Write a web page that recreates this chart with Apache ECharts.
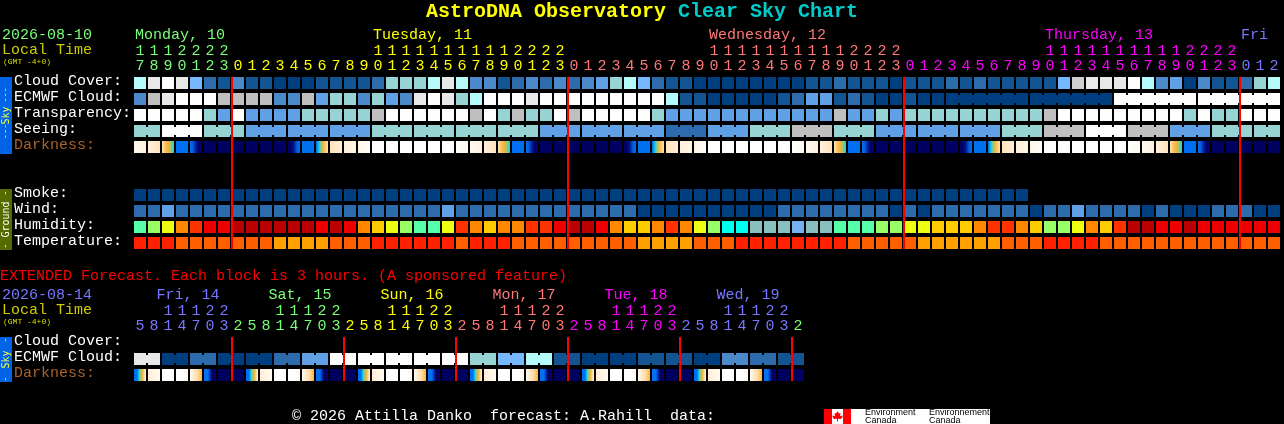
<!DOCTYPE html>
<html>
<head>
<meta charset="utf-8">
<style>html,body{margin:0;padding:0;background:#000}#c{width:1284px;height:424px}</style>
<script src="https://cdn.jsdelivr.net/npm/echarts@6/dist/echarts.min.js"></script>
</head>
<body>
<div id="c"></div>
<script>
// ---------- axis text ----------
const skyRows = ['Cloud Cover:','ECMWF Cloud:','Transparency:','Seeing:','Darkness:','','','Smoke:','Wind:','Humidity:','Temperature:'];
const extRows = ['Cloud Cover:','ECMWF Cloud:','Darkness:'];
const hours = [17,18,19,20,21,22,23,
  0,1,2,3,4,5,6,7,8,9,10,11,12,13,14,15,16,17,18,19,20,21,22,23,
  0,1,2,3,4,5,6,7,8,9,10,11,12,13,14,15,16,17,18,19,20,21,22,23,
  0,1,2,3,4,5,6,7,8,9,10,11,12,13,14,15,16,17,18,19,20,21,22,23,
  0,1,2];
const hourDay = [0,0,0,0,0,0,0,
  1,1,1,1,1,1,1,1,1,1,1,1,1,1,1,1,1,1,1,1,1,1,1,1,
  2,2,2,2,2,2,2,2,2,2,2,2,2,2,2,2,2,2,2,2,2,2,2,2,
  3,3,3,3,3,3,3,3,3,3,3,3,3,3,3,3,3,3,3,3,3,3,3,3,
  4,4,4];
const extHours = [5,8,11,14,17,20,23,
  2,5,8,11,14,17,20,23, 2,5,8,11,14,17,20,23, 2,5,8,11,14,17,20,23,
  2,5,8,11,14,17,20,23, 2,5,8,11,14,17,20,23, 2];
const extHourDay = [4,4,4,4,4,4,4, 0,0,0,0,0,0,0,0, 1,1,1,1,1,1,1,1, 2,2,2,2,2,2,2,2, 3,3,3,3,3,3,3,3, 4,4,4,4,4,4,4,4, 0];
const dayColors = ['#77ff77','#ffff00','#ff7777','#ff00ff','#7777ff'];
const dayLabels = ['Monday, 10','Tuesday, 11','Wednesday, 12','Thursday, 13','Fri'];
const dayLabelCols = [0,17,41,65,79];
const extDayLabels = ['Fri, 14','Sat, 15','Sun, 16','Mon, 17','Tue, 18','Wed, 19'];
const extDayLabelCols = [1.6,9.6,17.6,25.6,33.6,41.6];
const extDayLabelColors = [4,0,1,2,3,4];
const midnights = [7,31,55,79];
const extMidnights = [7,15,23,31,39,47];

// ---------- series values (level into the sky scale: 0 clear/dark blue ... 11 white) ----------
const cloudCover = [6,10,11,10,5,2,1,3,1,1,0,0,0,1,1,1,1,2,7,7,7,
  6,10,6,3,3,1,2,3,2,3,2,3,4,7,6,5,2,1,1,0,0,0,0,0,0,0,0,1,1,2,1,
  1,1,0,1,1,1,2,1,2,1,1,1,1,1,5,9,10,10,10,11,6,3,4,0,3,1,1,2,7,6];
const ecmwfHourly = [3,8,10,11,11,11,8,8,8,8,3,3,8,4,7,7,3,7,4,3,10,
  11,10,7,6,11,11,11,10,11,11,11,11,11,11,11,11,11,6,1,1,0,0,0,0,0,1,2,4,4,1,2,
  1,0,0,1,0,0];
const ecmwfBlocks = [0,0,11,11];
const ecmwfBlockSpans = [6,6,6,6];
const transparency = [11,11,11,11,11,7,4,11,4,4,4,4,7,7,7,7,7,8,11,11,11,
  11,11,11,8,11,7,8,7,7,11,8,11,11,11,11,11,7,4,4,4,4,4,4,4,4,4,4,4,4,8,4,
  4,7,4,7,7,7,7,7,7,7,7,7,7,8,11,11,11,11,11,11,11,11,11,7,11,7,7,11,11,11];
const seeingBlocks = [7,11,7,4,4,4,7,7,7,7,4,4,4,2,4,7,8,7,4,4,4,7,8,11,8,4,7,7];
const seeingSpans = [2,3,3,3,3,3,3,3,3,3,3,3,3,3,3,3,3,3,3,3,3,3,3,3,3,3,3,2];
// darkness profile of one cell, left to right (0 daylight ... 9 full night)
const darknessShapes = [
  [.5,1.1],[1.1,1.8],[1.8,2.6,3,3.4,4.2],[5,5],[5,5.5,7,8,8.5],[8.3,8.5],[8.5,8.5],
  [8.5,8.2],[8.5,8,7,5.5,5],[5,5],[5,4.4,3.5,3,2.4,2],[1.8,1.2],[1.2,.8],[.8,.2],[0,0],[.1,.5]];
const darknessKeys = [0,1,2,3,4,5,6,6,6,6,7,8,9,10,11,12,13,14,14,14,14,14,14,15,
  0,1,2,3,4,5,6,6,6,6,7,8,9,10,11,12,13,14,14,14,14,14,14,15,
  0,1,2,3,4,5,6,6,6,6,7,8,9,10,11,12,13,14,14,14,14,14,14,15,
  0,1,2,3,4,5,6,6,6,6];
const smoke = [0,0,0,0,0,0,0,0,0,0,0,0,0,0,0,0,0,0,0,0,0,0,0,0,0,0,0,0,0,0,0,0,
  0,0,0,0,0,0,0,0,0,0,0,0,0,0,0,0,0,0,0,0,0,0,0,0,0,0,0,0,0,0,0,0];
const wind = [2,2,4,2,2,2,2,2,2,2,2,2,2,2,2,2,2,2,2,2,2,
  2,4,2,2,2,2,2,2,2,2,2,2,2,2,2,0,0,0,0,0,0,0,0,0,0,2,2,2,2,2,2,
  2,2,0,2,0,2,2,2,2,2,2,2,0,2,2,4,2,2,2,2,0,2,0,0,0,2,2,2,0,0];
const humidity = [60,65,70,80,85,90,90,95,95,95,95,95,95,90,95,90,80,75,70,65,60,
  60,70,85,80,75,80,80,85,85,90,95,95,90,80,75,75,80,85,80,70,65,55,55,50,50,50,45,50,50,60,60,
  60,65,65,70,70,75,75,75,80,85,85,80,75,65,65,70,80,75,85,95,95,90,90,95,90,90,90,90,90,90];
const temperature = [0,0,0,1,1,1,1,1,1,1,2,2,2,2,1,1,1,0,0,0,0,
  0,0,1,0,0,0,1,1,1,1,1,1,1,1,1,2,2,2,2,1,1,1,0,0,0,0,0,0,0,0,1,
  1,1,1,1,2,2,2,2,2,2,1,1,1,0,0,0,0,1,1,1,1,1,1,1,1,1,1,1,1,1];
const extEcmwfBlocks = [10,0,2,0,0,2,4,11,11,11,11,11,7,5,6,1,0,0,1,1,0,3,2,1];
const extDarknessShapes = [[5,5,3.6,2.8,1.2],[1.2,.5],[0,0],[0,.2],[.8,2.9],[5,5,8,8.5],[8.5,8.5],[8.5,8.5]];
const extDarknessKeys = [0,1,2,3,4,5,6,7, 0,1,2,3,4,5,6,7, 0,1,2,3,4,5,6,7, 0,1,2,3,4,5,6,7, 0,1,2,3,4,5,6,7, 0,1,2,3,4,5,6,7];

// ---------- colour scales ----------
const skyColors = ['#003f7f','#135493','#2c6cad','#4a8acb','#60a0e4','#76b8ff','#b4fafa','#96d4d4','#bfbfbf','#cfcfcf','#e8e8e8','#fefefe'];
const humidityColors = {95:'#bb0000',90:'#ee0000',85:'#ff3300',80:'#ff8800',75:'#ffcc00',70:'#eeff11',65:'#99ff66',60:'#55ffaa',55:'#00ffee',50:'#88c0c0',45:'#77b0f0'};
const temperatureColors = ['#ff2000','#ff5f00','#ffa000'];
const darknessScale = [[255,255,255],[255,243,224],[255,223,176],[255,176,48],[20,224,224],[0,112,240],[0,72,200],[0,24,144],[0,0,106],[0,0,88]];

const MONO = '"Liberation Mono"';
const PITCH = 14, ROW = 16, CELL = 12, LEFT = 133;

function darknessColor(level){
  const i = Math.min(8, Math.floor(level)), t = level - i;
  const a = darknessScale[i], b = darknessScale[i + 1];
  return 'rgb(' + a.map((v, k) => Math.round(v + (b[k] - v) * t)).join(',') + ')';
}
function darknessFill(levels){
  const stops = [], n = 12;
  for (let s = 0; s <= n; s++){
    const p = s / n * (levels.length - 1), j = Math.min(levels.length - 2, Math.floor(p));
    stops.push({offset: s / n, color: darknessColor(levels[j] + (levels[j + 1] - levels[j]) * (p - j))});
  }
  return new echarts.graphic.LinearGradient(0, 0, 1, 0, stops);
}
function expand(blocks, spans){
  const out = [];
  blocks.forEach((v, b) => { for (let k = 0; k < spans[b]; k++) out.push({v: v, join: k < spans[b] - 1}); });
  return out;
}
function plain(values){ return values.map(v => ({v: v, join: false})); }

function cellSeries(name, gridIdx, row, cells, fillOf){
  return {
    name: name, type: 'custom', xAxisIndex: gridIdx * 2, yAxisIndex: gridIdx,
    clip: false, silent: true, animation: false, z: 2,
    encode: {x: 0, y: 1},
    data: cells.map((c, i) => [i, row, i, c.join ? 1 : 0]),
    renderItem: function(params, api){
      const p = api.coord([api.value(0), api.value(1)]);
      const cell = cells[api.value(2)];
      const fill = fillOf(cell.v);
      const kids = [{type: 'rect', shape: {x: p[0] - CELL / 2, y: p[1] - CELL / 2, width: CELL, height: CELL}, style: {fill: fill}}];
      if (api.value(3)) kids.push({type: 'rect', shape: {x: p[0] + CELL / 2, y: p[1] - 4, width: PITCH - CELL, height: 8}, style: {fill: fill}});
      return {type: 'group', children: kids};
    }
  };
}
function midnightSeries(gridIdx, cols){
  return {
    name: 'midnight', type: 'custom', xAxisIndex: gridIdx * 2, yAxisIndex: gridIdx,
    clip: false, silent: true, animation: false, z: 20,
    encode: {x: 0, y: 1},
    data: cols.map(c => [c, 0]),
    renderItem: function(params, api){
      const p = api.coord([api.value(0), 0]), g = params.coordSys;
      return {type: 'rect', shape: {x: p[0] - PITCH / 2, y: g.y + 2, width: 2, height: g.height - 4}, style: {fill: '#ff0000'}};
    }
  };
}
const skyFill = v => skyColors[v];
const darkCells = darknessKeys.map(k => ({v: darknessShapes[k], join: false}));
const extDarkCells = extDarknessKeys.map(k => ({v: extDarknessShapes[k], join: false}));
const spans2 = extEcmwfBlocks.map(() => 2);

const series = [
  cellSeries('Cloud Cover', 0, 0, plain(cloudCover), skyFill),
  cellSeries('ECMWF Cloud', 0, 1, plain(ecmwfHourly).concat(expand(ecmwfBlocks, ecmwfBlockSpans)), skyFill),
  cellSeries('Transparency', 0, 2, plain(transparency), skyFill),
  cellSeries('Seeing', 0, 3, expand(seeingBlocks, seeingSpans), skyFill),
  cellSeries('Darkness', 0, 4, darkCells, darknessFill),
  cellSeries('Smoke', 0, 7, plain(smoke), skyFill),
  cellSeries('Wind', 0, 8, plain(wind), skyFill),
  cellSeries('Humidity', 0, 9, plain(humidity), v => humidityColors[v]),
  cellSeries('Temperature', 0, 10, plain(temperature), v => temperatureColors[v]),
  midnightSeries(0, midnights),
  cellSeries('ECMWF Cloud (extended)', 1, 1, expand(extEcmwfBlocks, spans2), skyFill),
  cellSeries('Darkness (extended)', 1, 2, extDarkCells, darknessFill),
  midnightSeries(1, extMidnights)
];

function xAx(gridIndex, names, dayOf, offset){
  return {
    type: 'category', gridIndex: gridIndex, position: 'top', offset: offset, data: names, boundaryGap: true,
    axisLine: {show: false}, axisTick: {show: false}, splitLine: {show: false},
    axisLabel: {show: true, interval: 0, margin: 1, hideOverlap: false,
      fontFamily: MONO, fontSize: 15, lineHeight: 15,
      color: (v, i) => dayColors[dayOf[i]]}
  };
}
function yAx(gridIndex, names){
  const rowStyle = color => ({color: color, fontFamily: MONO, fontSize: 15, lineHeight: 15, padding: [0, 0, 4, 0]});
  return {
    type: 'category', gridIndex: gridIndex, inverse: true, data: names,
    axisLine: {show: false}, axisTick: {show: false}, splitLine: {show: false},
    axisLabel: {show: true, interval: 0, align: 'left', margin: LEFT - 14,
      formatter: v => v ? (v === 'Darkness:' ? '{dim|' + v + '}' : '{lit|' + v + '}') : '',
      rich: {lit: rowStyle('#ffffff'), dim: rowStyle('#a8622c')}}
  };
}
const units = a => a.map(h => String(h % 10));
const tens = a => a.map(h => h >= 10 ? String(Math.floor(h / 10)) : '');

function txt(text, x, y, fill, size, extra){
  return Object.assign({type: 'text', x: x, y: y, silent: true, z: 10,
    style: {text: text, fill: fill, font: (extra && extra.weight ? extra.weight + ' ' : '') + size + 'px ' + ((extra && extra.family) || MONO),
      align: (extra && extra.align) || 'left', verticalAlign: 'middle'}},
    extra && extra.rotation ? {rotation: extra.rotation} : {});
}
function side(text, y, fill, size){
  return txt(text, 6, y, fill, size, {align: 'center', rotation: Math.PI / 2, family: '"DejaVu Sans Mono"'});
}
const graphics = [
  txt('AstroDNA Observatory', 426, 12, '#ffff00', 20, {weight: 'bold'}),
  txt('Clear Sky Chart', 678, 12, '#00cccc', 20, {weight: 'bold'}),
  txt('2026-08-10', 2, 35, '#77ff77', 15),
  txt('Local Time', 2, 50, '#cccc00', 15),
  txt('(GMT -4+0)', 3, 62, '#dddd00', 8),
  txt('EXTENDED Forecast. Each block is 3 hours. (A sponsored feature)', 0, 276, '#ff0000', 15),
  txt('2026-08-14', 2, 295, '#7777ff', 15),
  txt('Local Time', 2, 310, '#cccc00', 15),
  txt('(GMT -4+0)', 3, 322, '#dddd00', 8),
  txt('\u00a9 2026 Attilla Danko  forecast: A.Rahill  data:', 292, 416, '#ffffff', 15),
  {type: 'rect', shape: {x: 0, y: 77, width: 12, height: 77}, style: {fill: '#0064e6'}, z: 1},
  {type: 'rect', shape: {x: 0, y: 189, width: 12, height: 61}, style: {fill: '#556b00'}, z: 1},
  {type: 'rect', shape: {x: 0, y: 337, width: 12, height: 45}, style: {fill: '#0064e6'}, z: 1},
  side('---', 95, '#ffff33', 8.5), side('Sky', 115.5, '#ffff33', 10), side('---', 131.5, '#ffff33', 8.5),
  side('-', 193, '#ffffff', 9), side('Ground', 219.5, '#ffffff', 10), side('-', 246, '#ffffff', 9),
  side('-', 340, '#ffff33', 9), side('Sky', 359.5, '#ffff33', 10), side('-', 379, '#ffff33', 9),
  {type: 'rect', shape: {x: 824, y: 409, width: 166, height: 15}, style: {fill: '#ffffff'}, z: 1},
  {type: 'rect', shape: {x: 824, y: 409, width: 8, height: 15}, style: {fill: '#ff0000'}, z: 2},
  {type: 'rect', shape: {x: 843, y: 409, width: 8, height: 15}, style: {fill: '#ff0000'}, z: 2},
  {type: 'polygon', z: 2, style: {fill: '#ff0000'}, shape: {points: [[837.5,411],[839,413.5],[840.5,413],[840,416],[842.5,415.5],[842.5,417],[841,419],[838,418.7],[838,421.5],[837,421.5],[837,418.7],[834,419],[832.5,417],[832.5,415.5],[835,416],[834.5,413],[836,413.5]]}}
].concat(
  [['Environment', 865, 412.5], ['Canada', 865, 420.5], ['Environnement', 929, 412.5], ['Canada', 929, 420.5]].map(t => ({
    type: 'text', x: t[1], y: t[2], silent: true, z: 3,
    style: {text: t[0], fill: '#000000', font: '9px "Liberation Sans"', verticalAlign: 'middle'}
  })),
  dayLabels.map((s, i) => txt(s, LEFT + 2 + dayLabelCols[i] * PITCH, 35, dayColors[i], 15)),
  extDayLabels.map((s, i) => txt(s, LEFT + 1 + extDayLabelCols[i] * PITCH, 295, dayColors[extDayLabelColors[i]], 15))
);

const chart = echarts.init(document.getElementById('c'), null, {renderer: 'canvas', width: 1284, height: 424, devicePixelRatio: 1});
chart.setOption({
  backgroundColor: '#000000',
  animation: false,
  tooltip: {show: false},
  grid: [
    {left: LEFT, top: 75, width: hours.length * PITCH, height: skyRows.length * ROW, containLabel: false},
    {left: LEFT, top: 335, width: extHours.length * PITCH, height: extRows.length * ROW, containLabel: false}
  ],
  xAxis: [
    xAx(0, units(hours), hourDay, 0),
    xAx(0, tens(hours), hourDay, 15),
    xAx(1, units(extHours), extHourDay, 0),
    xAx(1, tens(extHours), extHourDay, 15)
  ],
  yAxis: [yAx(0, skyRows), yAx(1, extRows)],
  graphic: {elements: graphics},
  series: series
});
</script>
</body>
</html>
